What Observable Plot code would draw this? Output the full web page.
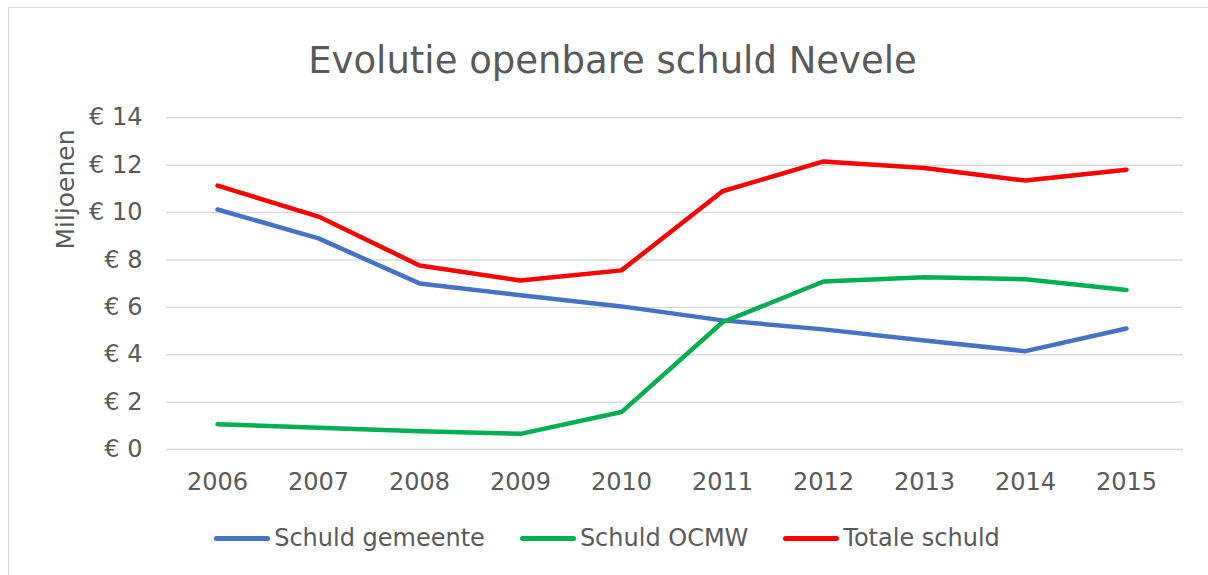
<!DOCTYPE html>
<html>
<head>
<meta charset="utf-8">
<script src="https://cdn.jsdelivr.net/npm/d3@7"></script>
<script src="https://cdn.jsdelivr.net/npm/@observablehq/plot@0.6"></script>
<style>
  html, body { margin: 0; padding: 0; background: #fff; }
  body { width: 1208px; height: 575px; overflow: hidden; position: relative; font-family: "DejaVu Sans", Verdana, sans-serif; color: #595959; }
  #frame { position: absolute; left: 8px; top: 7px; width: 1220px; height: 600px; border-top: 1.5px solid #d9d9d9; border-left: 1.5px solid #d9d9d9; box-sizing: border-box; pointer-events: none; }
  #title { height: 95px; box-sizing: border-box; padding-top: 42px; line-height: 37px; font-size: 37px; text-align: center; padding-left: 17px; white-space: nowrap; }
  #chart svg { display: block; }
  #legend { display: flex; justify-content: center; align-items: center; gap: 35px; padding-top: 19px; padding-left: 6px; font-size: 24px; line-height: 28px; white-space: nowrap; }
  .item { display: flex; align-items: center; gap: 4px; }
  .sw { width: 56px; height: 5px; border-radius: 3px; }
</style>
</head>
<body>
<div id="frame"></div>
<div id="title">Evolutie openbare schuld Nevele</div>
<div id="chart"></div>
<div id="legend"></div>
<script>
const years = ["2006", "2007", "2008", "2009", "2010", "2011", "2012", "2013", "2014", "2015"];
const schuldGemeente = [10.13, 8.91, 7.01, 6.51, 6.04, 5.45, 5.07, 4.60, 4.15, 5.11];
const schuldOCMW = [1.07, 0.92, 0.77, 0.66, 1.58, 5.37, 7.09, 7.27, 7.19, 6.73];
const totaleSchuld = [11.14, 9.83, 7.77, 7.13, 7.56, 10.90, 12.16, 11.88, 11.35, 11.81];
const seriesNames = ["Schuld gemeente", "Schuld OCMW", "Totale schuld"];
const seriesColors = ["#4472C4", "#00B050", "#FF0000"];
const yTicks = [0, 2, 4, 6, 8, 10, 12, 14];

const seriesValues = [schuldGemeente, schuldOCMW, totaleSchuld];
const rows = [];
seriesNames.forEach((name, i) => {
  years.forEach((yr, j) => rows.push({ series: name, year: yr, value: seriesValues[i][j] }));
});

const W = 1208, H = 410;
const plot = Plot.plot({
  width: W,
  height: H,
  marginTop: 22.3,
  marginBottom: 56,
  marginLeft: 166,
  marginRight: 25,
  style: { fontFamily: "DejaVu Sans, Verdana, sans-serif", fontSize: "24px", color: "#595959", background: "white", overflow: "visible" },
  x: { type: "point", domain: years, range: [216.7, 1125.7], padding: 0 },
  y: { domain: [0, 14], ticks: yTicks },
  color: { domain: seriesNames, range: seriesColors },
  marks: [
    Plot.gridY(yTicks, { stroke: "#d9d9d9", strokeOpacity: 1, strokeWidth: 1.4 }),
    Plot.axisY(yTicks, { tickSize: 0, tickPadding: 24, tickFormat: d => "€ " + d, label: null, fill: "#595959", fontSize: 24 }),
    Plot.axisX({ tickSize: 0, tickPadding: 23, label: null, fill: "#595959", fontSize: 24 }),
    Plot.line(rows, { x: "year", y: "value", z: "series", stroke: "series", strokeWidth: 4.5, strokeLinecap: "round", strokeLinejoin: "round" }),
    Plot.text(["Miljoenen"], { frameAnchor: "top-left", dx: -110, dy: 71.7, rotate: -90, fontSize: 25, fill: "#595959", textAnchor: "middle" })
  ]
});
document.getElementById("chart").appendChild(plot);

const legend = document.getElementById("legend");
seriesNames.forEach((name, i) => {
  const item = document.createElement("div");
  item.className = "item";
  const sw = document.createElement("div");
  sw.className = "sw";
  sw.style.background = seriesColors[i];
  const lab = document.createElement("span");
  lab.textContent = name;
  item.appendChild(sw);
  item.appendChild(lab);
  legend.appendChild(item);
});
</script>
</body>
</html>
